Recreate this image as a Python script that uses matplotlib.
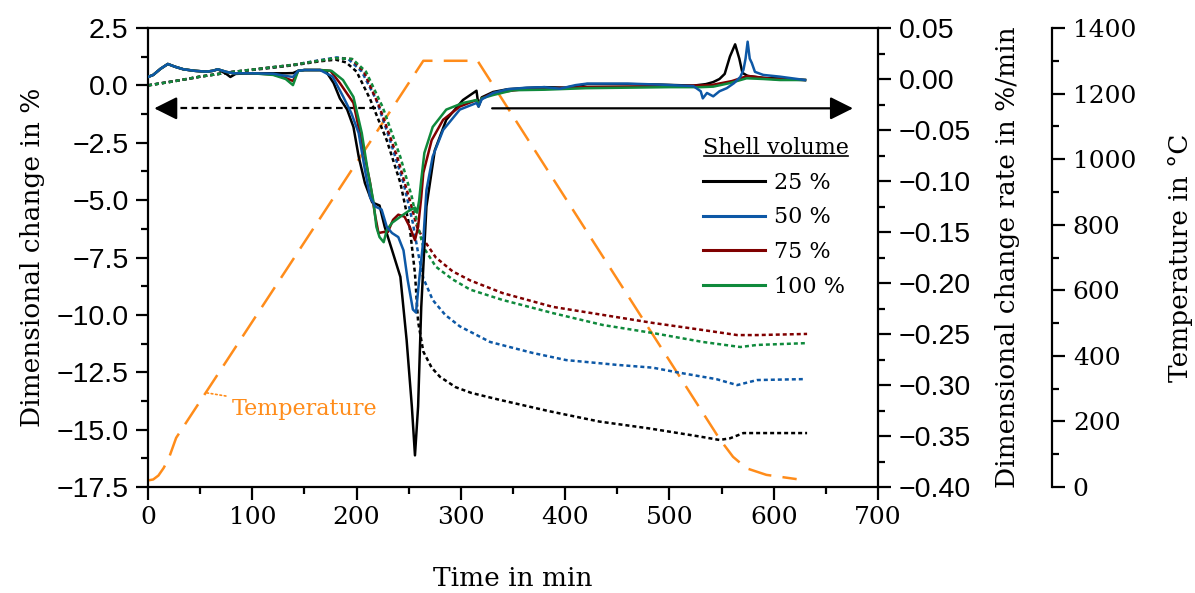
import matplotlib
matplotlib.use("Agg")
import matplotlib.pyplot as plt
from matplotlib.ticker import MultipleLocator, FuncFormatter
from matplotlib.lines import Line2D

# ---------------- data ----------------
series_labels = ["25 %", "50 %", "75 %", "100 %"]
series_colors = ["#000000", "#0d58a6", "#800000", "#0f8a3c"]

# Dimensional change in % (dotted, left axis)
dim_t_25 = [0, 25, 50, 80, 110, 140, 165, 180, 190, 200, 213, 229, 242, 251, 256, 259, 264, 272, 280, 295, 310, 337, 385, 433, 481, 529, 548, 558, 571, 593, 632]
dim_v_25 = [0.0, 0.18, 0.38, 0.58, 0.72, 0.88, 1.05, 1.12, 1.0, 0.6, -0.6, -2.4, -4.25, -6.2, -8.2, -10.3, -11.6, -12.3, -12.7, -13.15, -13.4, -13.7, -14.2, -14.65, -14.95, -15.3, -15.45, -15.38, -15.15, -15.15, -15.15]
dim_t_50 = [0, 25, 50, 80, 110, 140, 165, 181, 192, 205, 219, 232, 245, 254, 259, 264, 273, 285, 299, 328, 369, 401, 450, 484, 507, 545, 565, 584, 628]
dim_v_50 = [0.0, 0.18, 0.38, 0.58, 0.74, 0.9, 1.1, 1.22, 1.15, 0.6, -0.64, -2.38, -4.25, -6.0, -7.3, -8.4, -9.35, -10.0, -10.5, -11.18, -11.66, -11.97, -12.18, -12.3, -12.5, -12.8, -13.06, -12.84, -12.8]
dim_t_75 = [0, 25, 50, 80, 110, 140, 165, 180, 195, 207, 222, 239, 251, 258, 264, 276, 292, 309, 340, 388, 436, 484, 532, 565, 584, 632]
dim_v_75 = [0.0, 0.18, 0.38, 0.58, 0.74, 0.9, 1.08, 1.18, 1.15, 0.6, -0.94, -3.12, -5.0, -6.17, -6.7, -7.5, -8.1, -8.5, -9.05, -9.65, -10.0, -10.35, -10.66, -10.88, -10.88, -10.83]
dim_t_100 = [0, 25, 50, 80, 110, 140, 165, 180, 196, 209, 225, 242, 253, 259, 264, 276, 292, 309, 340, 388, 436, 484, 532, 568, 584, 632]
dim_v_100 = [0.0, 0.18, 0.38, 0.58, 0.74, 0.9, 1.08, 1.18, 1.15, 0.6, -0.94, -3.12, -4.86, -6.17, -7.04, -7.9, -8.45, -8.9, -9.35, -9.92, -10.44, -10.79, -11.18, -11.4, -11.31, -11.23]

# Dimensional change rate in %/min (solid, right axis)
rate_t_25 = [0, 5, 12, 19, 26, 34, 45, 56, 62, 67, 75, 79, 84, 100, 120, 132, 139, 144, 150, 165, 171, 178, 184, 191, 197, 202, 208, 215, 222, 227, 235, 242, 248, 253, 256, 259, 262, 267, 275, 286, 302, 315, 317, 320, 331, 345, 363, 380, 400, 421, 460, 491, 523, 535, 542, 548, 553, 558, 563, 567, 570, 575, 590, 606, 630]
rate_r_25 = [0.002, 0.004, 0.010, 0.0147, 0.012, 0.0095, 0.008, 0.0072, 0.008, 0.0095, 0.005, 0.002, 0.005, 0.0056, 0.0056, 0.0056, 0.0058, 0.008, 0.0088, 0.0088, 0.007, -0.004, -0.019, -0.030, -0.047, -0.076, -0.102, -0.121, -0.124, -0.145, -0.171, -0.194, -0.256, -0.321, -0.369, -0.321, -0.224, -0.125, -0.070, -0.040, -0.0206, -0.0115, -0.027, -0.018, -0.0127, -0.010, -0.0088, -0.008, -0.0085, -0.005, -0.005, -0.0055, -0.0065, -0.005, -0.003, 0.0, 0.005, 0.022, 0.034, 0.02, 0.006, 0.003, 0.001, 0.0005, -0.001]
rate_t_50 = [0, 5, 12, 19, 26, 34, 45, 56, 62, 67, 75, 82, 100, 120, 132, 139, 144, 150, 165, 177, 187, 195, 202, 208, 213, 218, 224, 229, 234, 240, 245, 249, 254, 257, 260, 264, 267, 273, 283, 299, 315, 317, 320, 331, 345, 363, 380, 395, 410, 421, 460, 491, 523, 530, 532, 536, 542, 548, 555, 562, 568, 571, 573, 575, 577, 579, 582, 590, 606, 630]
rate_r_50 = [0.002, 0.004, 0.010, 0.0147, 0.012, 0.0095, 0.008, 0.0072, 0.008, 0.0095, 0.007, 0.0056, 0.0056, 0.0052, 0.003, 0.002, 0.008, 0.0088, 0.0088, 0.0023, -0.017, -0.0335, -0.053, -0.089, -0.116, -0.125, -0.128, -0.145, -0.151, -0.155, -0.168, -0.197, -0.226, -0.229, -0.197, -0.158, -0.109, -0.076, -0.050, -0.030, -0.0235, -0.027, -0.020, -0.0137, -0.010, -0.0085, -0.008, -0.0095, -0.006, -0.0045, -0.0045, -0.0055, -0.007, -0.012, -0.019, -0.0137, -0.017, -0.012, -0.009, -0.004, 0.002, 0.009, 0.02, 0.0366, 0.02, 0.0157, 0.007, 0.004, 0.0023, -0.001]
rate_t_75 = [0, 5, 12, 19, 26, 34, 45, 56, 62, 67, 75, 82, 100, 120, 132, 139, 144, 150, 165, 175, 184, 197, 206, 213, 218, 221, 226, 230, 235, 240, 246, 251, 256, 259, 262, 264, 272, 283, 299, 315, 317, 320, 331, 360, 420, 500, 540, 560, 575, 600, 630]
rate_r_75 = [0.002, 0.004, 0.010, 0.0147, 0.012, 0.0095, 0.008, 0.0072, 0.008, 0.0095, 0.007, 0.0056, 0.0056, 0.0045, 0.001, -0.002, 0.008, 0.0088, 0.0088, 0.008, -0.004, -0.0235, -0.0667, -0.102, -0.135, -0.151, -0.150, -0.150, -0.138, -0.133, -0.135, -0.145, -0.158, -0.145, -0.116, -0.092, -0.060, -0.040, -0.027, -0.0206, -0.025, -0.019, -0.0137, -0.010, -0.008, -0.007, -0.006, -0.002, 0.003, 0.0, -0.001]
rate_t_100 = [0, 5, 12, 19, 26, 34, 45, 56, 62, 67, 75, 82, 100, 120, 132, 139, 144, 150, 165, 176, 187, 197, 205, 211, 216, 219, 222, 226, 229, 234, 242, 249, 256, 258, 260, 262, 265, 273, 286, 302, 315, 317, 320, 331, 350, 380, 420, 460, 500, 530, 542, 558, 574, 590, 606, 630]
rate_r_100 = [0.002, 0.004, 0.010, 0.0147, 0.012, 0.0095, 0.008, 0.0072, 0.008, 0.0095, 0.007, 0.0056, 0.0056, 0.004, 0.0, -0.006, 0.008, 0.0088, 0.0088, 0.008, -0.001, -0.0176, -0.053, -0.092, -0.119, -0.145, -0.155, -0.160, -0.148, -0.141, -0.135, -0.130, -0.126, -0.131, -0.119, -0.099, -0.0725, -0.047, -0.030, -0.0235, -0.0206, -0.025, -0.019, -0.0157, -0.011, -0.0105, -0.009, -0.0085, -0.008, -0.008, -0.0075, -0.004, 0.0007, 0.0, -0.001, -0.001]

# Temperature in °C
temp_t = [0, 5, 10, 15, 20, 27, 264, 316, 548, 561, 574, 593, 622]
temp_T = [20, 23, 35, 58, 88, 150, 1300, 1300, 147, 92, 57, 37, 24]

dim_t = [dim_t_25, dim_t_50, dim_t_75, dim_t_100]
dim_v = [dim_v_25, dim_v_50, dim_v_75, dim_v_100]
rate_t = [rate_t_25, rate_t_50, rate_t_75, rate_t_100]
rate_r = [rate_r_25, rate_r_50, rate_r_75, rate_r_100]

# arrows (left axis units) and annotation
arrow_y = -1.0
arrow_left = (219, 6)      # from -> tip (time)
arrow_right = (330, 676)   # from -> tip (time)
temp_label_xy = (56.6, 287)
temp_label_text_xy = (80, 238)

# ---------------- style ----------------
SANS = "Liberation Sans"
SERIF = "DejaVu Serif"
ORANGE = "#ff8c1a"

fig = plt.figure(figsize=(11.95, 5.93), dpi=100)
fig.patch.set_facecolor("white")
W, H = 1195, 593
ax = fig.add_axes([148 / W, 1 - 487 / H, 730 / W, 459 / H])
ax_rate = ax.twinx()
ax_temp = ax.twinx()

ax_temp.set_zorder(1)
ax.set_zorder(2)
ax_rate.set_zorder(3)
for a in (ax, ax_rate, ax_temp):
    a.patch.set_visible(False)

# temperature curve
ax_temp.plot(temp_t, temp_T, color=ORANGE, lw=1.8, linestyle=(0, (9.5, 4.5)))

# dotted dimension curves
for t, v, c in zip(dim_t, dim_v, series_colors):
    ax.plot(t, v, color=c, lw=1.8, linestyle=(0, (1.6, 1.2)))

# solid rate curves (draw order black, red, green, blue)
for i in [0, 2, 3, 1]:
    ax_rate.plot(rate_t[i], rate_r[i], color=series_colors[i], lw=1.8)
handles = [Line2D([], [], color=series_colors[i], lw=2.2) for i in range(4)]

# arrows
ax.plot([arrow_left[0], arrow_left[1] + 8], [arrow_y, arrow_y], color="black", lw=1.6,
        linestyle=(0, (3.0, 2.0)))
ax.annotate("", xy=(arrow_left[1], arrow_y), xytext=(arrow_left[1] + 15, arrow_y),
            arrowprops=dict(arrowstyle="-|>,head_length=0.7,head_width=0.35", color="black",
                            lw=1.6, shrinkA=0, shrinkB=0, mutation_scale=20))
ax.annotate("", xy=(arrow_right[1], arrow_y), xytext=(arrow_right[0], arrow_y),
            arrowprops=dict(arrowstyle="-|>,head_length=0.7,head_width=0.35", color="black",
                            lw=1.6, shrinkA=0, shrinkB=0, mutation_scale=20))

# temperature annotation
ax_temp.annotate("Temperature", xy=temp_label_xy, xytext=temp_label_text_xy,
                 color=ORANGE, fontsize=16, family=SERIF, ha="left", va="center",
                 arrowprops=dict(arrowstyle="-", color=ORANGE, lw=1.2, linestyle=":",
                                 shrinkA=2, shrinkB=0))

# ---------------- axes ----------------
ax.set_xlim(0, 700)
ax.set_ylim(-17.5, 2.5)
ax_rate.set_ylim(-0.40, 0.05)
ax_temp.set_ylim(0, 1400)

ax.xaxis.set_major_locator(MultipleLocator(100))
ax.xaxis.set_minor_locator(MultipleLocator(50))
ax.yaxis.set_major_locator(MultipleLocator(2.5))
ax.yaxis.set_minor_locator(MultipleLocator(1.25))
ax_rate.yaxis.set_major_locator(MultipleLocator(0.05))
ax_rate.yaxis.set_minor_locator(MultipleLocator(0.025))
ax_temp.yaxis.set_major_locator(MultipleLocator(200))
ax_temp.yaxis.set_minor_locator(MultipleLocator(100))

minus = "\u2212"
ax.yaxis.set_major_formatter(FuncFormatter(lambda v, p: f"{v:.1f}".replace("-", minus)))
ax_rate.yaxis.set_major_formatter(FuncFormatter(lambda v, p: ("0.00" if abs(v) < 1e-9 else f"{v:.2f}".replace("-", minus))))
ax.xaxis.set_major_formatter(FuncFormatter(lambda v, p: f"{v:.0f}"))
ax_temp.yaxis.set_major_formatter(FuncFormatter(lambda v, p: f"{v:.0f}"))

for a in (ax, ax_rate, ax_temp):
    for s in a.spines.values():
        s.set_linewidth(1.6)

ax.spines["right"].set_visible(False)
for s in ("left", "top", "bottom"):
    ax_rate.spines[s].set_visible(False)
    ax_temp.spines[s].set_visible(False)
ax_temp.spines["right"].set_position(("axes", (1052 - 148) / 730))

ax.tick_params(axis="both", which="major", direction="out", length=9, width=1.6)
ax.tick_params(axis="both", which="minor", direction="out", length=5, width=1.6)
ax.tick_params(axis="x", which="both", top=False)
ax.tick_params(axis="y", which="both", right=False)
ax.tick_params(axis="y", which="major", pad=5, labelsize=20.5, labelfontfamily=SANS)
ax.tick_params(axis="x", which="major", pad=5, labelsize=18, labelfontfamily=SERIF)
for a in (ax_rate, ax_temp):
    a.tick_params(axis="y", which="major", direction="out", length=9, width=1.6, pad=6)
    a.tick_params(axis="y", which="minor", direction="out", length=5, width=1.6)
ax_rate.tick_params(axis="y", which="major", labelsize=20.5, labelfontfamily=SANS)
ax_temp.tick_params(axis="y", which="major", labelsize=18, labelfontfamily=SERIF)

ax.set_xlabel("Time in min", family=SERIF, fontsize=19)
ax.set_ylabel("Dimensional change in %", family=SERIF, fontsize=19)
ax_rate.set_ylabel("Dimensional change rate in %/min", family=SERIF, fontsize=19)
ax_temp.set_ylabel("Temperature in \u00b0C", family=SERIF, fontsize=19)
ax.xaxis.set_label_coords(0.5, -0.173)
ax.yaxis.set_label_coords(-0.141, 0.5)
ax_rate.yaxis.set_label_coords(1.160, 0.5)
ax_temp.yaxis.set_label_coords(1.397, 0.5)

# legend
leg = ax_rate.legend(handles, series_labels, title="Shell volume", loc="upper left",
                     bbox_to_anchor=((703 - 148) / 730, (487 - 137) / 459),
                     frameon=False, borderpad=0, borderaxespad=0, handlelength=2.8,
                     handletextpad=0.4, labelspacing=0.57, alignment="left",
                     prop={"family": SERIF, "size": 16},
                     title_fontproperties={"family": SERIF, "size": 16})

fig.canvas.draw()
renderer = fig.canvas.get_renderer()
tb = leg.get_title().get_window_extent(renderer)
inv = fig.transFigure.inverted()
(x0, y0) = inv.transform((tb.x0 + 1, tb.y0 + 3))
(x1, _) = inv.transform((tb.x1 - 1, tb.y0 + 3))
fig.add_artist(Line2D([x0, x1], [y0, y0], color="black", lw=1.2, transform=fig.transFigure))

fig.savefig("out.png", dpi=100, facecolor="white")
